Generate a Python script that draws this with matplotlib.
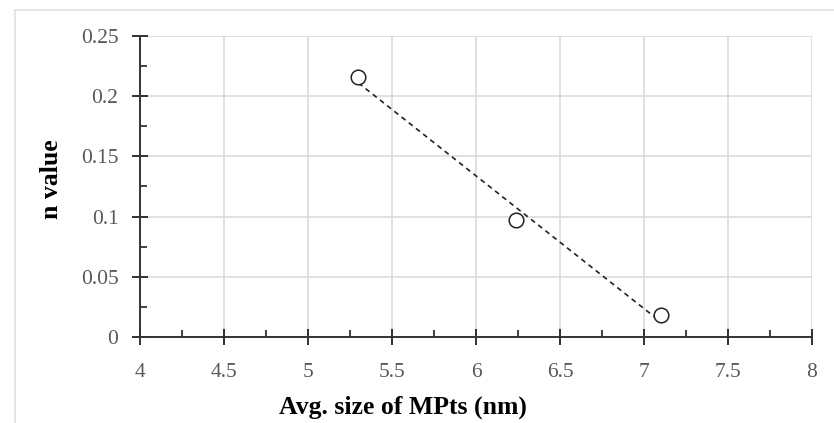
import numpy as np
import matplotlib.pyplot as plt
from matplotlib.ticker import MultipleLocator
from matplotlib.lines import Line2D

# datos
tamano = [5.30, 6.24, 7.10]
n_valor = [0.216, 0.097, 0.018]
x_ticks = [4, 4.5, 5, 5.5, 6, 6.5, 7, 7.5, 8]
y_ticks = [0, 0.05, 0.1, 0.15, 0.2, 0.25]
y_tick_labels = ["0", "0.05", "0.1", "0.15", "0.2", "0.25"]

plt.rcParams['font.family'] = ['Liberation Serif', 'DejaVu Serif']

fig = plt.figure(figsize=(8.34, 4.23), dpi=100)
ax = fig.add_axes([140/834, 1-337/423, 672/834, 301/423])

# linea de tendencia (ajuste lineal)
m, b = np.polyfit(tamano, n_valor, 1)
xt = np.array([min(tamano), max(tamano)])
ax.plot(xt, m*xt + b, ls=(0, (3, 2.5)), color="#222222", lw=1.2, zorder=2)
ax.scatter(tamano, n_valor, s=110, facecolors="white", edgecolors="#222222",
           linewidths=1.1, zorder=3)

ax.set_xlim(4, 8)
ax.set_ylim(0, 0.25)
ax.set_xticks(x_ticks)
ax.set_xticklabels([f"{v:g}" for v in x_ticks])
ax.set_yticks(y_ticks)
ax.set_yticklabels(y_tick_labels)
ax.xaxis.set_minor_locator(MultipleLocator(0.25))
ax.yaxis.set_minor_locator(MultipleLocator(0.025))
ax.grid(True, which="major", color="#d9d9d9", lw=1.1)
ax.set_axisbelow(True)

for s in ["top", "right"]:
    ax.spines[s].set_visible(False)
for s in ["left", "bottom"]:
    ax.spines[s].set_color("#333333")
    ax.spines[s].set_linewidth(1.4)

ax.tick_params(which="major", direction="inout", length=11, width=1.3, color="#222222",
               labelsize=15.5, labelcolor="#595959")
ax.tick_params(which="minor", direction="in", length=5, width=1.2, color="#222222")
ax.tick_params(axis="x", which="major", pad=13)
ax.tick_params(axis="y", which="major", pad=10)

fig.text(403/834, 1-407/423, "Avg. size of MPts (nm)", fontsize=18.5, fontweight="bold",
         ha="center", va="center")
fig.text(52/834, 1-179/423, "n value", fontsize=18.5, fontweight="bold",
         ha="center", va="center", rotation=90)

# marco exterior gris claro
fig.add_artist(Line2D([15/834, 1], [1-10/423, 1-10/423], color="#e0e0e0", lw=1.2))
fig.add_artist(Line2D([15/834, 15/834], [0, 1-10/423], color="#e0e0e0", lw=1.2))

plt.savefig("out.png", dpi=100)
